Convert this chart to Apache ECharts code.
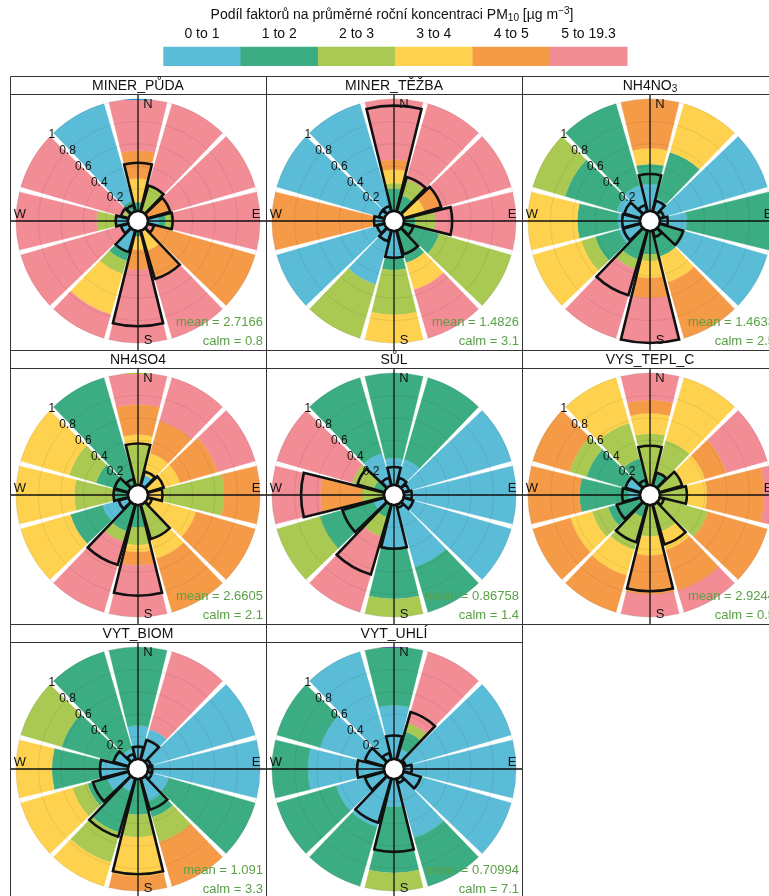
<!DOCTYPE html>
<html><head><meta charset="utf-8">
<script src="https://cdn.jsdelivr.net/npm/echarts@6/dist/echarts.min.js"></script>
<style>html,body{margin:0;padding:0;background:#fff}#c{width:769px;height:896px}</style>
</head><body><div id="c"></div>
<script>
// ---------- data ----------
const directions = ['N','30','60','E','120','150','S','210','240','W','300','330'];
const classLabels = ['0 to 1','1 to 2','2 to 3','3 to 4','4 to 5','5 to 19.3'];
const classColors = ['#5ABCD6','#3CAD82','#A9C952','#FED24E','#F59B47','#F28C95'];
const legendTitle = 'Podíl faktorů na průměrné roční koncentraci PM{sub|10} [µg m{sup|−3}]';
const panelNames = ['MINER_PŮDA','MINER_TĚŽBA','NH4NO{sub|3}','NH4SO4','SŮL','VYS_TEPL_C','VYT_BIOM','VYT_UHLÍ'];
const panelMeans = ['2.7166','1.4826','1.4633','2.6605','0.86758','2.9244','1.091','0.70994'];
const panelCalms = ['0.8','3.1','2.5','2.1','1.4','0.5','3.3','7.1'];
const radialMax = 1;
const radialStep = 0.2;

// background bands per direction (N first, clockwise): [class index, outer radius]
const bgMinerPuda = [
  [[1,.08],[3,.29],[4,.54],[5,1]],
  [[2,.24],[5,1]],
  [[4,.21],[5,1]],
  [[0,.1],[1,.16],[2,.22],[5,1]],
  [[5,.06],[4,1]],
  [[3,.19],[4,.46],[5,1]],
  [[1,.05],[3,.17],[4,.35],[5,1]],
  [[0,.2],[1,.28],[2,.4],[3,.78],[5,1]],
  [[0,.07],[5,1]],
  [[0,.11],[2,.28],[5,1]],
  [[2,.05],[5,1]],
  [[1,.1],[0,1]]
];
const bgMinerTezba = [
  [[1,.2],[2,.25],[3,.37],[4,.46],[5,1]],
  [[1,.15],[2,.3],[5,1]],
  [[3,.2],[4,.35],[5,1]],
  [[1,.1],[2,.28],[5,1]],
  [[1,.33],[2,1]],
  [[1,.3],[3,.55],[5,1]],
  [[0,.24],[1,.35],[2,.75],[3,1]],
  [[0,.5],[2,1]],
  [[0,1]],
  [[0,.09],[4,1]],
  [[0,1]],
  [[0,1]]
];
const bgNH4NO3 = [
  [[0,.24],[1,.42],[3,.56],[4,1]],
  [[0,.12],[1,.55],[3,1]],
  [[0,1]],
  [[0,.24],[1,1]],
  [[1,.24],[0,1]],
  [[1,.24],[3,.48],[4,1]],
  [[1,.21],[2,.27],[3,.42],[4,.6],[5,1]],
  [[1,.27],[2,.36],[5,1]],
  [[0,.2],[1,.42],[2,.55],[3,1]],
  [[0,.2],[1,.56],[3,1]],
  [[0,.22],[1,.7],[2,1]],
  [[0,.24],[1,1]]
];
const bgNH4SO4 = [
  [[2,.36],[3,.45],[4,.72],[5,1]],
  [[0,.1],[3,.3],[4,.6],[5,1]],
  [[3,.3],[4,.65],[5,1]],
  [[3,.15],[2,.68],[4,1]],
  [[3,.45],[4,1]],
  [[2,.33],[3,.5],[4,1]],
  [[1,.2],[2,.36],[3,.42],[4,.54],[5,1]],
  [[1,.25],[2,.35],[5,1]],
  [[0,.24],[1,.54],[3,1]],
  [[1,.12],[2,.48],[3,1]],
  [[1,.3],[2,.55],[3,1]],
  [[1,1]]
];
const bgSul = [
  [[0,.24],[1,1]],
  [[0,.24],[1,1]],
  [[0,1]],
  [[0,1]],
  [[0,1]],
  [[0,.58],[1,1]],
  [[0,.39],[1,.84],[2,1]],
  [[1,.12],[2,.3],[5,1]],
  [[0,.1],[1,.6],[2,1]],
  [[2,.2],[4,.57],[5,1]],
  [[1,.1],[2,.3],[5,1]],
  [[0,.3],[1,1]]
];
const bgVysTepl = [
  [[2,.46],[3,.64],[4,.76],[5,1]],
  [[1,.12],[2,.42],[3,1]],
  [[2,.22],[3,.42],[4,.62],[5,1]],
  [[2,.24],[3,.42],[4,.93],[5,1]],
  [[2,.45],[4,1]],
  [[2,.25],[3,.42],[4,.8],[5,1]],
  [[2,.28],[3,.45],[4,.8],[5,1]],
  [[1,.12],[2,.42],[3,.66],[4,1]],
  [[1,.3],[2,.45],[3,.65],[4,1]],
  [[0,.1],[1,.54],[4,1]],
  [[0,.15],[1,.5],[2,.66],[4,1]],
  [[1,.25],[2,.58],[3,1]]
];
const bgVytBiom = [
  [[0,.3],[1,1]],
  [[0,.28],[5,1]],
  [[0,1]],
  [[0,1]],
  [[0,.2],[1,1]],
  [[0,.21],[1,.36],[2,.59],[4,1]],
  [[1,.32],[2,.52],[3,.87],[4,1]],
  [[0,.12],[1,.5],[2,.78],[3,1]],
  [[0,.2],[1,.38],[2,.52],[3,1]],
  [[0,.25],[1,.68],[3,1]],
  [[0,.12],[1,.62],[2,1]],
  [[0,.1],[1,1]]
];
const bgVytUhli = [
  [[0,.48],[1,1]],
  [[0,.1],[1,.26],[2,.34],[5,1]],
  [[0,1]],
  [[0,1]],
  [[0,1]],
  [[0,.55],[1,1]],
  [[0,.25],[1,.84],[2,1]],
  [[0,.45],[1,1]],
  [[0,.45],[1,1]],
  [[0,.68],[1,1]],
  [[0,.6],[1,1]],
  [[0,1]]
];

// contribution wedges (black outlines), N first, clockwise
const cMinerPuda  = [0.43,0.24,0.21,0.22,0.06,0.45,0.85,0.20,0.07,0.11,0.07,0.06];
const cMinerTezba = [0.94,0.32,0.35,0.43,0.09,0.22,0.24,0.10,0.07,0.09,0.05,0.05];
const cNH4NO3     = [0.33,0.10,0.04,0.07,0.22,0.06,1.00,0.60,0.16,0.16,0.15,0.06];
const cNH4SO4     = [0.37,0.13,0.15,0.13,0.04,0.32,0.81,0.56,0.09,0.13,0.13,0.06];
const cSul        = [0.16,0.07,0.05,0.07,0.09,0.03,0.39,0.65,0.39,0.74,0.25,0.07];
const cVysTepl    = [0.35,0.12,0.21,0.24,0.04,0.37,0.77,0.35,0.22,0.16,0.14,0.05];
const cVytBiom    = [0.11,0.18,0.03,0.04,0.04,0.29,0.85,0.54,0.33,0.25,0.14,0.05];
const cVytUhli    = [0.21,0.44,0.02,0.07,0.16,0.04,0.65,0.41,0.18,0.24,0.18,0.06];

const backgrounds = [bgMinerPuda,bgMinerTezba,bgNH4NO3,bgNH4SO4,bgSul,bgVysTepl,bgVytBiom,bgVytUhli];
const contributions = [cMinerPuda,cMinerTezba,cNH4NO3,cNH4SO4,cSul,cVysTepl,cVytBiom,cVytUhli];

// ---------- layout ----------
const FONT = '"Liberation Sans", Arial, Helvetica, sans-serif';
const P = {x0:10, y0:76, w:256, h:274, strip:18, rIn:10, rOut:122};
const rotIdx = k => (k + 11) % 12; // axis starts at the 315° gap, first sector = 330°
const axisDirs = directions.map((_, k) => directions[rotIdx(k)]);

const chart = echarts.init(document.getElementById('c'), null, {renderer:'canvas'});
const polar = [], angleAxis = [], radiusAxis = [], series = [], graphics = [];

// legend
graphics.push({type:'text', x:392, y:15, z:20, style:{
  text: legendTitle, fontSize:14, fontFamily:FONT, fill:'#111',
  align:'center', verticalAlign:'middle', textAlign:'center', textVerticalAlign:'middle',
  rich:{sub:{fontSize:10, fontFamily:FONT, fill:'#111', padding:[6,0,0,0]},
        sup:{fontSize:10, fontFamily:FONT, fill:'#111', padding:[0,0,7,0]}}
}});
const legX0 = 163.3, legW = 77.3;
classLabels.forEach((lab, k) => {
  graphics.push({type:'rect', z:20, shape:{x:legX0 + k*legW, y:46.7, width:legW + 0.4, height:19.3},
    style:{fill:classColors[k]}});
  graphics.push({type:'text', z:20, x:legX0 + (k + 0.5)*legW, y:34, style:{
    text:lab, fontSize:14, fontFamily:FONT, fill:'#111',
    align:'center', verticalAlign:'middle', textAlign:'center', textVerticalAlign:'middle'}});
});

panelNames.forEach((name, i) => {
  const col = i % 3, row = Math.floor(i / 3);
  const x0 = P.x0 + P.w*col, y0 = P.y0 + P.h*row;
  const cx = x0 + P.w/2, cy = y0 + P.strip + 127;
  polar.push({center:[cx, cy], radius:[P.rIn, P.rOut]});
  angleAxis.push({polarIndex:i, type:'category', data:axisDirs, startAngle:135, clockwise:true,
    boundaryGap:true, axisLine:{show:false}, axisTick:{show:false}, axisLabel:{show:false},
    splitLine:{show:false}});
  radiusAxis.push({polarIndex:i, type:'value', min:0, max:radialMax, interval:radialStep, z:3,
    axisLine:{show:false}, axisTick:{show:false},
    axisLabel:{show:true, margin:0, align:'center', verticalAlign:'middle', fontSize:12,
      fontFamily:FONT, color:'#111', formatter:v => (v === 0 ? '' : String(v))},
    splitLine:{show:true, lineStyle:{color:'rgba(0,0,0,0.08)', width:1}}});

  const bg = backgrounds[i];
  const maxRuns = Math.max(...bg.map(r => r.length));
  for (let k = 0; k < maxRuns; k++) {
    series.push({type:'bar', coordinateSystem:'polar', polarIndex:i, stack:'bg' + i,
      barCategoryGap:'8%', barGap:'-100%', silent:true, z:2, animation:false,
      data: axisDirs.map((_, a) => {
        const runs = bg[rotIdx(a)];
        if (k >= runs.length) return 0;
        const start = k ? runs[k-1][1] : 0;
        const c = classColors[runs[k][0]];
        return {value: +(runs[k][1] - start).toFixed(4),
          itemStyle:{color:c, borderColor:c, borderWidth:0.3}};
      })});
  }
  series.push({type:'bar', coordinateSystem:'polar', polarIndex:i,
    barCategoryGap:'8%', barGap:'-100%', silent:true, z:5, animation:false,
    data: axisDirs.map((_, a) => contributions[i][rotIdx(a)]),
    itemStyle:{color:'rgba(0,0,0,0)', borderColor:'#111', borderWidth:2.6}});

  // frame and strip
  graphics.push({type:'rect', z:30, shape:{x:x0 + 0.5, y:y0 + 0.5, width:P.w, height:P.h},
    style:{fill:'none', stroke:'#333', lineWidth:1}});
  graphics.push({type:'line', z:30, shape:{x1:x0, y1:y0 + P.strip + 0.5, x2:x0 + P.w, y2:y0 + P.strip + 0.5},
    style:{stroke:'#333', lineWidth:1}});
  graphics.push({type:'text', z:30, x:cx, y:y0 + P.strip/2 + 1, style:{
    text:name, fontSize:14, fontFamily:FONT, fill:'#111',
    align:'center', verticalAlign:'middle', textAlign:'center', textVerticalAlign:'middle',
    rich:{sub:{fontSize:10, fontFamily:FONT, fill:'#111', padding:[6,0,0,0]}}}});

  // crosshair (not through the centre hole)
  const ls = {stroke:'#111', lineWidth:1.3};
  graphics.push({type:'line', z:4, shape:{x1:cx, y1:y0 + P.strip, x2:cx, y2:cy - P.rIn}, style:ls});
  graphics.push({type:'line', z:4, shape:{x1:cx, y1:cy + P.rIn, x2:cx, y2:y0 + P.h}, style:ls});
  graphics.push({type:'line', z:4, shape:{x1:x0, y1:cy, x2:cx - P.rIn, y2:cy}, style:ls});
  graphics.push({type:'line', z:4, shape:{x1:cx + P.rIn, y1:cy, x2:x0 + P.w, y2:cy}, style:ls});

  // compass letters
  [['N',10,-117],['S',10,119],['E',118,-7],['W',-118,-7]].forEach(([t,dx,dy]) => {
    graphics.push({type:'text', z:6, x:cx + dx, y:cy + dy, style:{
      text:t, fontSize:13, fontFamily:FONT, fill:'#111',
      align:'center', verticalAlign:'middle', textAlign:'center', textVerticalAlign:'middle'}});
  });

  // mean / calm
  graphics.push({type:'text', z:6, x:cx + 125, y:cy + 101, style:{
    text:'mean = ' + panelMeans[i], fontSize:13, fontFamily:FONT, fill:'#5AA047',
    align:'right', verticalAlign:'middle', textAlign:'right', textVerticalAlign:'middle'}});
  graphics.push({type:'text', z:6, x:cx + 125, y:cy + 120, style:{
    text:'calm = ' + panelCalms[i], fontSize:13, fontFamily:FONT, fill:'#5AA047',
    align:'right', verticalAlign:'middle', textAlign:'right', textVerticalAlign:'middle'}});
});

chart.setOption({
  animation:false,
  backgroundColor:'#fff',
  textStyle:{fontFamily:FONT},
  polar, angleAxis, radiusAxis, series,
  graphic:{elements:graphics}
});
</script>
</body></html>
